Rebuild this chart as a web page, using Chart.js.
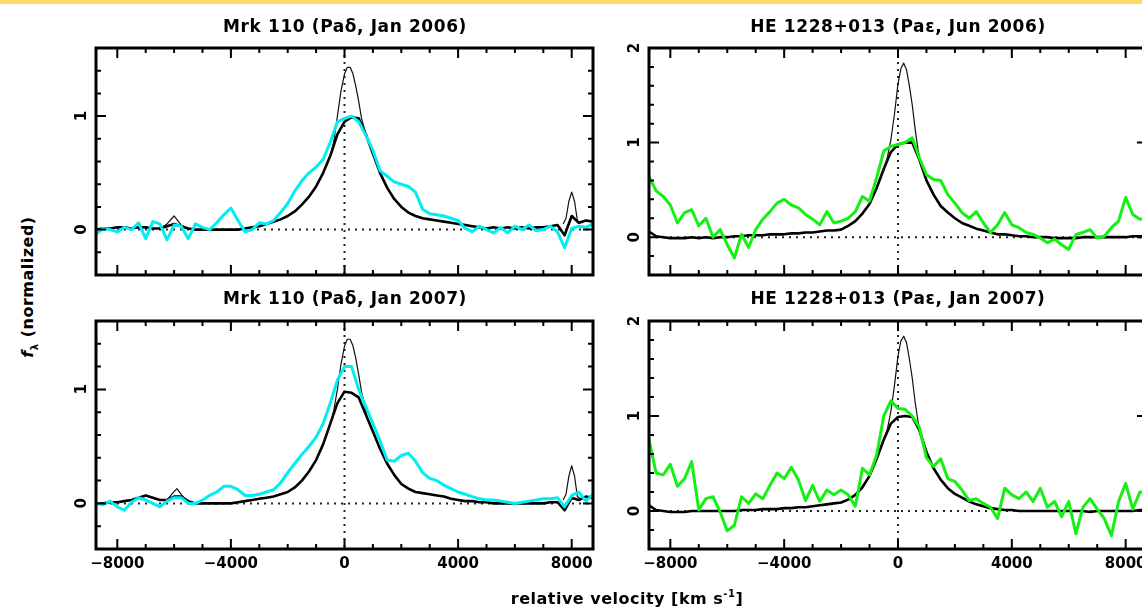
<!DOCTYPE html>
<html>
<head>
<meta charset="utf-8">
<script src="https://cdn.jsdelivr.net/npm/chart.js@4.4.1/dist/chart.umd.min.js"></script>
<style>
  body { margin: 0; background: #fff; }
  #wrap { position: relative; width: 1142px; height: 611px; overflow: hidden; background: #fff;
          font-family: "DejaVu Sans", sans-serif; font-weight: bold; color: #000; }
  .band { position: absolute; left: 0; top: 0; width: 1142px; height: 4px; background: #fdd966; }
  canvas { position: absolute; }
  .title { position: absolute; transform: translate(-50%, -50%); white-space: nowrap;
           font-size: 17px; letter-spacing: 0.6px; }
  .xlab { position: absolute; left: 627px; top: 598px; transform: translate(-50%, -50%);
          white-space: nowrap; font-size: 16px; letter-spacing: 0.5px; }
  .ylab { position: absolute; left: 29px; top: 287px; transform: translate(-50%, -50%) rotate(-90deg);
          white-space: nowrap; font-size: 16px; letter-spacing: 0.5px; }
  sup { font-size: 10px; }
</style>
</head>
<body>
<div id="wrap">
  <div class="band"></div>
  <canvas id="c1" width="577" height="307" style="left:56px;top:8px"></canvas>
  <canvas id="c2" width="578" height="307" style="left:609px;top:8px"></canvas>
  <canvas id="c3" width="577" height="308" style="left:56px;top:281px"></canvas>
  <canvas id="c4" width="578" height="308" style="left:609px;top:281px"></canvas>
  <div class="title" style="left:345px;top:26px">Mrk 110 (Paδ, Jan 2006)</div>
  <div class="title" style="left:898px;top:26px">HE 1228+013 (Paε, Jun 2006)</div>
  <div class="title" style="left:345px;top:298px">Mrk 110 (Paδ, Jan 2007)</div>
  <div class="title" style="left:898px;top:298px">HE 1228+013 (Paε, Jan 2007)</div>
  <div class="xlab">relative velocity [km s<sup>-1</sup>]</div>
  <div class="ylab"><i>f</i><sub style="font-size:10px">λ</sub> (normalized)</div>
</div>
<script>
// velocity grid (km/s), shared by the broad profiles
const velocity = [-8750, -8500, -8250, -8000, -7750, -7500, -7250, -7000, -6750, -6500, -6250, -6000,
  -5750, -5500, -5250, -5000, -4750, -4500, -4250, -4000, -3750, -3500, -3250, -3000, -2750, -2500,
  -2250, -2000, -1750, -1500, -1250, -1000, -750, -500, -250, 0, 250, 500, 750, 1000, 1250, 1500,
  1750, 2000, 2250, 2500, 2750, 3000, 3250, 3500, 3750, 4000, 4250, 4500, 4750, 5000, 5250, 5500,
  5750, 6000, 6250, 6500, 6750, 7000, 7250, 7500, 7750, 8000, 8250, 8500, 8750];

// Mrk 110, Jan 2006
const mrk06Thick = [0.0, 0.01, 0.01, 0.02, 0.02, 0.01, 0.02, 0.02, 0.01, 0.01, 0.03, 0.05,
  0.03, 0.01, 0.0, 0.0, 0.0, 0.0, 0.0, 0.0, 0.0, 0.01, 0.02, 0.03, 0.05, 0.07,
  0.09, 0.12, 0.16, 0.22, 0.29, 0.38, 0.5, 0.65, 0.84, 0.95, 0.99, 0.98, 0.84, 0.67, 0.5, 0.37,
  0.27, 0.2, 0.15, 0.12, 0.1, 0.09, 0.08, 0.07, 0.06, 0.05, 0.04, 0.03, 0.02, 0.01, 0.02, 0.01,
  0.02, 0.01, 0.02, 0.01, 0.02, 0.02, 0.03, 0.04, -0.05, 0.12, 0.06, 0.08, 0.07];
const mrk06Cyan = [-0.04, 0.01, 0.0, -0.02, 0.02, 0.0, 0.06, -0.08, 0.07, 0.05, -0.09, 0.04,
  0.03, -0.08, 0.05, 0.02, 0.0, 0.06, 0.13, 0.19, 0.08, -0.02, 0.0, 0.06, 0.05, 0.08,
  0.15, 0.23, 0.34, 0.43, 0.5, 0.55, 0.62, 0.77, 0.95, 0.98, 1.0, 0.95, 0.83, 0.7, 0.52, 0.47,
  0.42, 0.4, 0.38, 0.33, 0.18, 0.14, 0.13, 0.12, 0.1, 0.08, 0.01, -0.02, 0.03, 0.0, -0.03, 0.02,
  -0.03, 0.03, 0.0, 0.04, -0.01, 0.0, 0.03, -0.02, -0.16, 0.01, 0.03, 0.02, 0.05];
const mrk06ThinVel = [-6500, -6250, -6000, -5750, -5500, -5000,
  -750, -625, -500, -375, -250, -125, 0, 100, 200, 300, 400, 500, 600, 700, 800, 1000,
  7700, 7800, 7900, 8000, 8100, 8200, 8300];
const mrk06Thin = [0.01, 0.05, 0.12, 0.04, 0.01, null,
  0.5, 0.57, 0.65, 0.78, 1.0, 1.22, 1.37, 1.43, 1.43, 1.37, 1.26, 1.13, 0.98, 0.89, 0.8, null,
  0.05, 0.1, 0.25, 0.33, 0.25, 0.08, 0.05];

// Mrk 110, Jan 2007
const mrk07Thick = [0.0, 0.0, 0.01, 0.01, 0.02, 0.03, 0.05, 0.07, 0.05, 0.03, 0.03, 0.06,
  0.06, 0.02, 0.0, 0.0, 0.0, 0.0, 0.0, 0.0, 0.01, 0.02, 0.03, 0.04, 0.05, 0.06,
  0.08, 0.1, 0.14, 0.2, 0.28, 0.38, 0.52, 0.7, 0.88, 0.98, 0.97, 0.93, 0.78, 0.63, 0.48, 0.35,
  0.25, 0.17, 0.13, 0.1, 0.09, 0.08, 0.07, 0.06, 0.04, 0.03, 0.02, 0.02, 0.01, 0.01, 0.0, 0.0,
  0.0, 0.0, 0.0, 0.0, 0.0, 0.0, 0.01, 0.01, -0.06, 0.05, 0.03, 0.06, 0.05];
const mrk07Cyan = [0.0, -0.01, 0.02, -0.03, -0.06, 0.01, 0.05, 0.03, 0.0, -0.03, 0.02, 0.05,
  0.05, 0.0, 0.0, 0.03, 0.07, 0.1, 0.15, 0.15, 0.12, 0.07, 0.07, 0.08, 0.1, 0.12,
  0.18, 0.27, 0.35, 0.43, 0.5, 0.58, 0.7, 0.88, 1.08, 1.2, 1.2, 1.0, 0.85, 0.7, 0.55, 0.38,
  0.37, 0.42, 0.44, 0.37, 0.27, 0.22, 0.2, 0.16, 0.13, 0.1, 0.08, 0.06, 0.04, 0.03, 0.03, 0.02,
  0.01, 0.0, 0.01, 0.02, 0.03, 0.04, 0.04, 0.05, -0.03, 0.07, 0.1, 0.02, 0.08];
const mrk07ThinVel = [-6250, -6050, -5900, -5750, -5550, -5000,
  -750, -625, -500, -375, -250, -125, 0, 100, 200, 300, 400, 500, 600, 700, 800, 1000,
  7700, 7800, 7900, 8000, 8100, 8200, 8300];
const mrk07Thin = [0.03, 0.09, 0.13, 0.08, 0.02, null,
  0.52, 0.6, 0.7, 0.82, 1.0, 1.22, 1.38, 1.44, 1.44, 1.38, 1.27, 1.13, 0.98, 0.87, 0.75, null,
  0.03, 0.08, 0.24, 0.33, 0.24, 0.06, 0.04];

// HE 1228+013, Jun 2006
const he06Thick = [0.06, 0.01, 0.0, -0.01, -0.01, -0.01, 0.0, -0.01, 0.0, -0.01, 0.0, 0.0,
  0.01, 0.01, 0.02, 0.02, 0.02, 0.03, 0.03, 0.03, 0.04, 0.04, 0.05, 0.05, 0.06, 0.07,
  0.07, 0.08, 0.12, 0.17, 0.25, 0.35, 0.52, 0.72, 0.9, 0.98, 1.0, 1.0, 0.82, 0.6, 0.45, 0.33,
  0.26, 0.2, 0.15, 0.12, 0.09, 0.07, 0.05, 0.03, 0.03, 0.02, 0.01, 0.01, 0.0, 0.0, 0.0, -0.01,
  -0.01, -0.01, -0.01, 0.0, 0.0, 0.0, 0.0, 0.0, 0.0, 0.0, 0.01, 0.01, 0.01];
const he06Green = [0.64, 0.49, 0.43, 0.34, 0.15, 0.26, 0.29, 0.12, 0.2, 0.0, 0.08, -0.08,
  -0.22, 0.03, -0.11, 0.08, 0.19, 0.27, 0.36, 0.4, 0.34, 0.31, 0.24, 0.19, 0.13, 0.27,
  0.15, 0.17, 0.2, 0.27, 0.43, 0.38, 0.63, 0.91, 0.96, 0.98, 1.0, 1.05, 0.84, 0.66, 0.61, 0.6,
  0.45, 0.36, 0.26, 0.2, 0.27, 0.15, 0.05, 0.13, 0.26, 0.13, 0.1, 0.05, 0.03, -0.01, -0.06, -0.02,
  -0.08, -0.13, 0.03, 0.05, 0.08, -0.01, 0.01, 0.1, 0.17, 0.42, 0.24, 0.19, 0.2];
const heThinVel = [-625, -500, -375, -250, -125, 0, 100, 200, 300, 400, 500, 600, 700, 800, 900];
const he06Thin = [0.62, 0.72, 0.84, 1.03, 1.3, 1.62, 1.78, 1.84, 1.77, 1.6, 1.4, 1.15, 0.93, 0.78, 0.69];

// HE 1228+013, Jan 2007
const he07Thick = [0.06, 0.01, 0.0, -0.01, -0.01, -0.01, 0.0, 0.0, 0.0, 0.0, 0.0, 0.0,
  0.0, 0.01, 0.01, 0.01, 0.02, 0.02, 0.02, 0.03, 0.03, 0.04, 0.04, 0.05, 0.06, 0.07,
  0.08, 0.09, 0.12, 0.17, 0.25, 0.37, 0.55, 0.75, 0.92, 0.99, 1.0, 0.99, 0.85, 0.62, 0.45, 0.33,
  0.24, 0.18, 0.14, 0.1, 0.07, 0.05, 0.03, 0.02, 0.01, 0.01, 0.0, 0.0, 0.0, 0.0, 0.0, 0.0,
  0.0, 0.0, 0.0, 0.0, -0.01, 0.0, 0.0, 0.0, 0.0, 0.0, 0.0, 0.01, 0.01];
const he07Green = [0.75, 0.4, 0.38, 0.49, 0.26, 0.34, 0.52, 0.01, 0.13, 0.15, -0.01, -0.21,
  -0.15, 0.15, 0.08, 0.18, 0.13, 0.27, 0.4, 0.34, 0.46, 0.33, 0.11, 0.27, 0.1, 0.22,
  0.17, 0.22, 0.17, 0.05, 0.45, 0.38, 0.59, 1.0, 1.16, 1.08, 1.07, 1.0, 0.88, 0.56, 0.47, 0.55,
  0.34, 0.31, 0.22, 0.11, 0.13, 0.08, 0.04, -0.08, 0.24, 0.17, 0.13, 0.2, 0.1, 0.24, 0.04, 0.1,
  -0.06, 0.1, -0.24, 0.04, 0.13, 0.02, -0.08, -0.26, 0.1, 0.29, 0.02, 0.2, 0.2];
const he07Thin = [0.65, 0.75, 0.86, 1.05, 1.32, 1.63, 1.79, 1.84, 1.77, 1.6, 1.4, 1.15, 0.95, 0.8, 0.71];

// axis ticks
const xTicks = [-8000, -7000, -6000, -5000, -4000, -3000, -2000, -1000, 0, 1000, 2000, 3000, 4000,
  5000, 6000, 7000, 8000];
const xMajor = [-8000, -4000, 0, 4000, 8000];
const xLabels = ['−8000', '−4000', '0', '4000', '8000'];
const mrkYTicks = [-0.4, -0.2, 0, 0.2, 0.4, 0.6, 0.8, 1, 1.2, 1.4, 1.6];
const heYTicks = [-0.4, -0.2, 0, 0.2, 0.4, 0.6, 0.8, 1, 1.2, 1.4, 1.6, 1.8, 2];
const mrkYMajor = [0, 1];
const heYMajor = [0, 1, 2];

const CYAN = '#00eef2';
const GREEN = '#14f014';

function pts(vel, vals) {
  return vel.map((v, i) => ({ x: v, y: vals[i] }));
}

// frame, inward ticks, dotted zero lines and tick labels
function axisFrame(yTicks, yMajor, showX) {
  return {
    id: 'axisFrame',
    beforeDatasetsDraw(chart) {
      const { ctx, chartArea: a, scales: { x, y } } = chart;
      ctx.save();
      ctx.strokeStyle = '#222';
      ctx.lineWidth = 2;
      ctx.setLineDash([2, 5]);
      const y0 = y.getPixelForValue(0), x0 = x.getPixelForValue(0);
      ctx.beginPath();
      ctx.moveTo(a.left, y0); ctx.lineTo(a.right, y0);
      ctx.moveTo(x0, a.top); ctx.lineTo(x0, a.bottom);
      ctx.stroke();
      ctx.restore();
    },
    afterDatasetsDraw(chart) {
      const { ctx, chartArea: a, scales: { x, y } } = chart;
      ctx.save();
      ctx.strokeStyle = '#000';
      ctx.lineWidth = 2;
      ctx.beginPath();
      xTicks.forEach(v => {
        const px = x.getPixelForValue(v);
        const len = xMajor.includes(v) ? 10 : 5;
        ctx.moveTo(px, a.top); ctx.lineTo(px, a.top + len);
        ctx.moveTo(px, a.bottom); ctx.lineTo(px, a.bottom - len);
      });
      yTicks.forEach(v => {
        const py = y.getPixelForValue(v);
        const len = yMajor.includes(v) ? 10 : 5;
        ctx.moveTo(a.left, py); ctx.lineTo(a.left + len, py);
        ctx.moveTo(a.right, py); ctx.lineTo(a.right - len, py);
      });
      ctx.stroke();
      ctx.lineWidth = 3;
      ctx.strokeRect(a.left, a.top, a.right - a.left, a.bottom - a.top);

      ctx.fillStyle = '#000';
      ctx.font = 'bold 15px "DejaVu Sans"';
      ctx.textAlign = 'center';
      ctx.textBaseline = 'middle';
      yMajor.forEach(v => {
        ctx.save();
        ctx.translate(a.left - 14, y.getPixelForValue(v));
        ctx.rotate(-Math.PI / 2);
        ctx.fillText(String(v), 0, 0);
        ctx.restore();
      });
      if (showX) {
        xMajor.forEach((v, i) => {
          ctx.fillText(xLabels[i], x.getPixelForValue(v), a.bottom + 15);
        });
      }
      ctx.restore();
    }
  };
}

function makePanel(id, colorVals, color, thickVals, thinVel, thinVals, yMax, yTicks, yMajor, showX, rightPad) {
  return new Chart(document.getElementById(id), {
    type: 'line',
    data: {
      datasets: [
        { data: pts(velocity, colorVals), borderColor: color, borderWidth: 3 },
        { data: pts(thinVel, thinVals), borderColor: '#111', borderWidth: 1.2 },
        { data: pts(velocity, thickVals), borderColor: '#000', borderWidth: 2.6 }
      ]
    },
    options: {
      responsive: false,
      animation: false,
      layout: { padding: { left: 40, top: 40, right: rightPad, bottom: 40 } },
      plugins: { legend: { display: false }, tooltip: { enabled: false } },
      elements: { point: { radius: 0 }, line: { tension: 0, borderJoinStyle: 'round' } },
      scales: {
        x: { type: 'linear', min: -8750, max: 8750, display: false },
        y: { type: 'linear', min: -0.4, max: yMax, display: false }
      }
    },
    plugins: [axisFrame(yTicks, yMajor, showX)]
  });
}

makePanel('c1', mrk06Cyan, CYAN, mrk06Thick, mrk06ThinVel, mrk06Thin, 1.6, mrkYTicks, mrkYMajor, false, 40);
makePanel('c2', he06Green, GREEN, he06Thick, heThinVel, he06Thin, 2, heYTicks, heYMajor, false, 40);
makePanel('c3', mrk07Cyan, CYAN, mrk07Thick, mrk07ThinVel, mrk07Thin, 1.6, mrkYTicks, mrkYMajor, true, 40);
makePanel('c4', he07Green, GREEN, he07Thick, heThinVel, he07Thin, 2, heYTicks, heYMajor, true, 40);
</script>
</body>
</html>
